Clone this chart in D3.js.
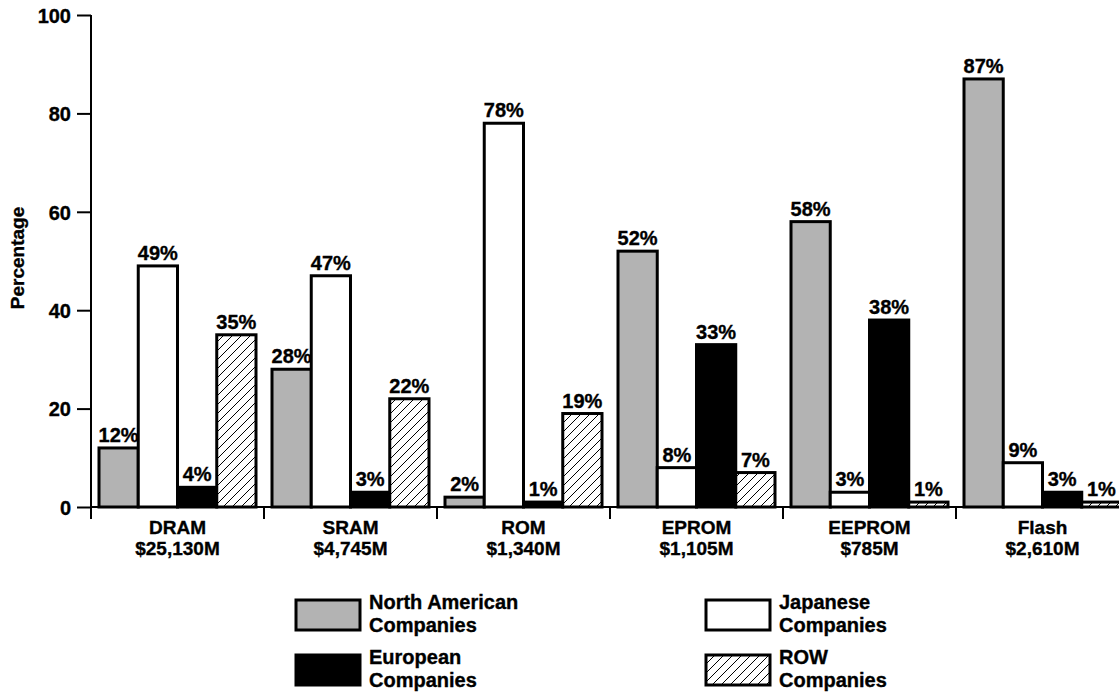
<!DOCTYPE html>
<html>
<head>
<meta charset="utf-8">
<script src="https://cdn.jsdelivr.net/npm/d3@7"></script>
<style>
  html, body { margin: 0; padding: 0; background: #fff; }
  svg { display: block; }
  text { font-family: "Liberation Sans", Arial, Helvetica, sans-serif; font-weight: bold; fill: #000; stroke: #000; stroke-width: 0.35px; }
</style>
</head>
<body>
<svg id="chart" width="1119" height="696"></svg>
<script>
// Memory market segments and their total revenue
const categories = ["DRAM", "SRAM", "ROM", "EPROM", "EEPROM", "Flash"];
const revenues = ["$25,130M", "$4,745M", "$1,340M", "$1,105M", "$785M", "$2,610M"];

// Share of each segment (%) by company region
const northAmerican = [12, 28, 2, 52, 58, 87];
const japanese = [49, 47, 78, 8, 3, 9];
const european = [4, 3, 1, 33, 38, 3];
const restOfWorld = [35, 22, 19, 7, 1, 1];

const seriesNames = ["North American", "Japanese", "European", "ROW"];
const seriesValues = [northAmerican, japanese, european, restOfWorld];
const yTicks = [0, 20, 40, 60, 80, 100];

const svg = d3.select("#chart");
const axisX = 91, baseY = 507, topY = 15, band = 173;

// Hatch used for the ROW series
const defs = svg.append("defs");
const hatch = defs.append("pattern")
  .attr("id", "hatch").attr("patternUnits", "userSpaceOnUse")
  .attr("width", 9).attr("height", 9);
hatch.append("rect").attr("width", 9).attr("height", 9).attr("fill", "#fff");
hatch.append("path")
  .attr("d", "M0,9 L9,0 M-2,2 L2,-2 M7,11 L11,7")
  .attr("stroke", "#000").attr("stroke-width", 1);

const fills = {
  "North American": "#b3b3b3",
  "Japanese": "#ffffff",
  "European": "#000000",
  "ROW": "url(#hatch)"
};

const x0 = d3.scaleBand().domain(categories)
  .range([axisX, axisX + band * categories.length]).padding(0);
const x1 = d3.scaleBand().domain(seriesNames)
  .range([8, x0.bandwidth() - 8]).padding(0);
const y = d3.scaleLinear().domain([0, 100]).range([baseY, topY]);

// Bars
const groups = svg.append("g").selectAll("g")
  .data(categories)
  .join("g")
  .attr("transform", d => `translate(${x0(d)},0)`);

groups.each(function(cat, ci) {
  const g = d3.select(this);
  const rows = seriesNames.map((s, si) => ({ s, v: seriesValues[si][ci] }));
  g.selectAll("rect").data(rows).join("rect")
    .attr("x", d => x1(d.s))
    .attr("y", d => y(d.v))
    .attr("width", x1.bandwidth())
    .attr("height", d => y(0) - y(d.v))
    .attr("fill", d => fills[d.s])
    .attr("stroke", "#000")
    .attr("stroke-width", 3);
  g.selectAll("text.val").data(rows).join("text")
    .attr("class", "val")
    .attr("x", d => x1(d.s) + x1.bandwidth() / 2)
    .attr("y", d => y(d.v) - 6)
    .attr("text-anchor", "middle")
    .style("font-size", "20px")
    .text(d => d.v + "%");
});

// X axis line and band separators
svg.append("line")
  .attr("x1", axisX).attr("x2", 1119)
  .attr("y1", baseY).attr("y2", baseY)
  .attr("stroke", "#000").attr("stroke-width", 2);
const sepPositions = categories.map(c => x0(c)).concat([x0.range()[1]]);
svg.append("g").selectAll("line").data(sepPositions).join("line")
  .attr("x1", d => d).attr("x2", d => d)
  .attr("y1", baseY).attr("y2", baseY + 12)
  .attr("stroke", "#000").attr("stroke-width", 2);

// Category labels
const catLabels = svg.append("g").selectAll("text").data(categories).join("text")
  .attr("x", d => x0(d) + x0.bandwidth() / 2)
  .attr("text-anchor", "middle")
  .style("font-size", "19px");
catLabels.append("tspan").attr("x", d => x0(d) + x0.bandwidth() / 2).attr("y", 534).text(d => d);
catLabels.append("tspan").attr("x", d => x0(d) + x0.bandwidth() / 2).attr("y", 555)
  .text((d, i) => revenues[i]);

// Y axis
const yAxis = svg.append("g").attr("transform", `translate(${axisX},0)`)
  .call(d3.axisLeft(y).tickValues(yTicks).tickSize(14).tickPadding(6));
yAxis.select(".domain").remove();
yAxis.selectAll("line").attr("stroke", "#000").attr("stroke-width", 2);
yAxis.selectAll("text")
  .style("font-size", "20px")
  .style("font-family", "'Liberation Sans', Arial, Helvetica, sans-serif")
  .style("font-weight", "bold")
  .attr("dy", "0.36em");
svg.append("line")
  .attr("x1", axisX).attr("x2", axisX)
  .attr("y1", y(100)).attr("y2", baseY + 12)
  .attr("stroke", "#000").attr("stroke-width", 2);

svg.append("text")
  .attr("transform", "translate(24,258) rotate(-90)")
  .attr("text-anchor", "middle")
  .style("font-size", "19px")
  .text("Percentage");

// Legend
const legendItems = [
  { s: "North American", x: 296, y: 600, lines: ["North American", "Companies"] },
  { s: "Japanese", x: 706, y: 600, lines: ["Japanese", "Companies"] },
  { s: "European", x: 296, y: 655, lines: ["European", "Companies"] },
  { s: "ROW", x: 706, y: 655, lines: ["ROW", "Companies"] }
];
const leg = svg.append("g").selectAll("g").data(legendItems).join("g")
  .attr("transform", d => `translate(${d.x},${d.y})`);
leg.append("rect")
  .attr("width", 64).attr("height", 30)
  .attr("fill", d => fills[d.s])
  .attr("stroke", "#000").attr("stroke-width", 3);
const legText = leg.append("text").style("font-size", "20px");
legText.append("tspan").attr("x", 73).attr("y", 9).text(d => d.lines[0]);
legText.append("tspan").attr("x", 73).attr("y", 32).text(d => d.lines[1]);
</script>
</body>
</html>
